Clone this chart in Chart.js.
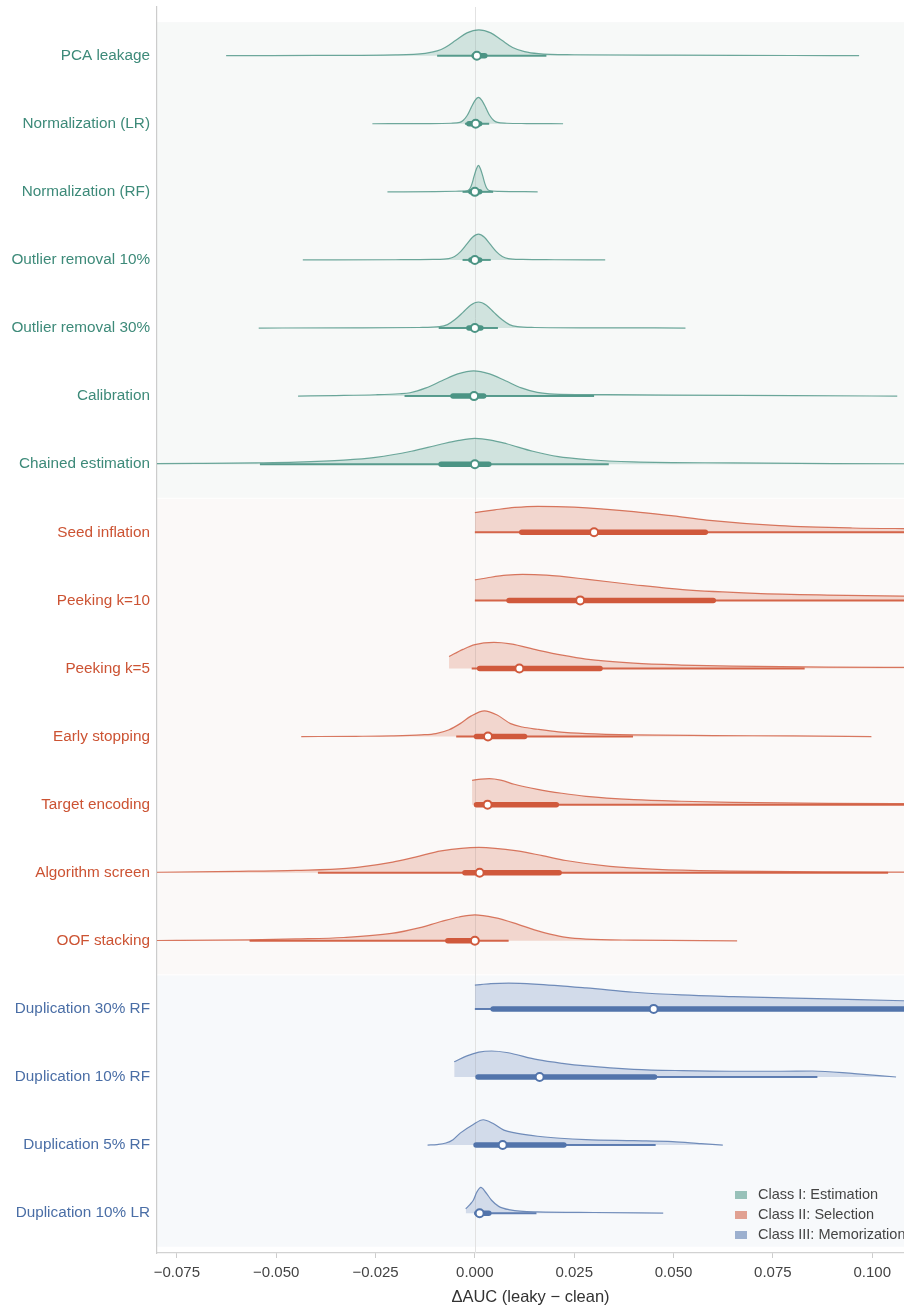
<!DOCTYPE html>
<html>
<head>
<meta charset="utf-8">
<title>ΔAUC by leakage mechanism</title>
<script src="https://cdn.jsdelivr.net/npm/chart.js@4.4.1/dist/chart.umd.min.js"></script>
<style>
  html, body { margin: 0; padding: 0; background: #ffffff; overflow: hidden; }
  #wrap { width: 904px; height: 1309px; position: relative; }
  canvas { display: block; }
</style>
</head>
<body>
<div id="wrap"><canvas id="chart" width="904" height="1309"></canvas></div>
<script>
// ---- data -----------------------------------------------------------------
const CATEGORIES = [
  'PCA leakage', 'Normalization (LR)', 'Normalization (RF)', 'Outlier removal 10%',
  'Outlier removal 30%', 'Calibration', 'Chained estimation',
  'Seed inflation', 'Peeking k=10', 'Peeking k=5', 'Early stopping',
  'Target encoding', 'Algorithm screen', 'OOF stacking',
  'Duplication 30% RF', 'Duplication 10% RF', 'Duplication 5% RF', 'Duplication 10% LR'
];
// 0 = Class I (estimation), 1 = Class II (selection), 2 = Class III (memorization)
const ROW_CLASS = [0, 0, 0, 0, 0, 0, 0, 1, 1, 1, 1, 1, 1, 1, 2, 2, 2, 2];
const CLASS_NAMES = ['Class I: Estimation', 'Class II: Selection', 'Class III: Memorization'];

const MEDIAN = [0.0005, 0.0002, 0.0, 0.0, 0.0, -0.0002, 0.0,
                0.030, 0.0265, 0.0112, 0.0033, 0.0032, 0.0012, 0.0,
                0.045, 0.0163, 0.007, 0.0012];
const IQR_LO = [-0.0002, -0.0015, -0.001, -0.001, -0.0015, -0.0055, -0.0085,
                0.0118, 0.0086, 0.0012, 0.0004, 0.0004, -0.0025, -0.0068,
                0.0046, 0.0008, 0.0003, 0.0005];
const IQR_HI = [0.0025, 0.0012, 0.0012, 0.0012, 0.0015, 0.0022, 0.0035,
                0.058, 0.060, 0.0315, 0.0125, 0.0205, 0.0212, 0.0003,
                0.13, 0.0452, 0.0224, 0.0035];
const CI_LO = [-0.0095, -0.0025, -0.0031, -0.0031, -0.0091, -0.0177, -0.0541,
               0.0, 0.0, -0.0008, -0.0047, 0.0, -0.0395, -0.0567,
               0.0, 0.0005, 0.0, 0.0003];
const CI_HI = [0.018, 0.0036, 0.0046, 0.004, 0.0058, 0.030, 0.0337,
               0.125, 0.125, 0.083, 0.0398, 0.125, 0.104, 0.0085,
               0.14, 0.0862, 0.0455, 0.0155];

// density profiles: [ΔAUC, height in row units]
const DENSITY = [
  [[-0.0626,0],[-0.04,0.004],[-0.02,0.012],[-0.0125,0.035],[-0.0095,0.07],[-0.0075,0.12],[-0.0047,0.23],[-0.002,0.335],[0.001,0.38],[0.004,0.335],[0.0067,0.23],[0.0095,0.12],[0.0125,0.06],[0.016,0.03],[0.025,0.014],[0.05,0.007],[0.08,0.003],[0.0967,0]],
  [[-0.0258,0],[-0.012,0.003],[-0.006,0.008],[-0.0038,0.02],[-0.0029,0.052],[-0.0019,0.125],[-0.001,0.23],[0.0,0.34],[0.0009,0.387],[0.0018,0.34],[0.0028,0.23],[0.0037,0.125],[0.0047,0.052],[0.0057,0.02],[0.008,0.008],[0.013,0.003],[0.0222,0]],
  [[-0.022,0],[-0.01,0.003],[-0.004,0.01],[-0.0018,0.02],[-0.0012,0.052],[-0.0007,0.125],[-0.0002,0.23],[0.0004,0.34],[0.0009,0.388],[0.0014,0.34],[0.002,0.23],[0.0025,0.125],[0.003,0.052],[0.0036,0.02],[0.006,0.008],[0.0158,0]],
  [[-0.0433,0],[-0.02,0.003],[-0.0105,0.008],[-0.0066,0.02],[-0.0051,0.05],[-0.0036,0.122],[-0.0021,0.227],[-0.0006,0.333],[0.0009,0.378],[0.0024,0.333],[0.0039,0.227],[0.0054,0.122],[0.0069,0.05],[0.0084,0.02],[0.012,0.008],[0.02,0.003],[0.0328,0]],
  [[-0.0544,0],[-0.03,0.003],[-0.014,0.008],[-0.0089,0.02],[-0.0069,0.05],[-0.005,0.124],[-0.003,0.23],[-0.0011,0.336],[0.0009,0.382],[0.0029,0.336],[0.0048,0.23],[0.0068,0.124],[0.0087,0.05],[0.0107,0.02],[0.015,0.008],[0.03,0.003],[0.053,0]],
  [[-0.0445,0],[-0.035,0.008],[-0.025,0.02],[-0.019,0.035],[-0.0163,0.05],[-0.0123,0.121],[-0.0083,0.226],[-0.0043,0.327],[-0.0003,0.372],[0.0037,0.327],[0.0077,0.226],[0.0117,0.121],[0.0157,0.055],[0.02,0.03],[0.03,0.022],[0.05,0.014],[0.08,0.008],[0.1063,0]],
  [[-0.09,0.005],[-0.07,0.012],[-0.055,0.02],[-0.045,0.03],[-0.033,0.059],[-0.025,0.1],[-0.016,0.19],[-0.0088,0.29],[-0.004,0.35],[0.0,0.378],[0.004,0.355],[0.008,0.3],[0.0146,0.19],[0.021,0.11],[0.028,0.069],[0.04,0.034],[0.065,0.019],[0.09,0.01],[0.115,0.006]],
  [[0,0.29],[0.005,0.33],[0.01,0.365],[0.0158,0.382],[0.025,0.37],[0.04,0.304],[0.05,0.24],[0.0584,0.18],[0.0766,0.098],[0.095,0.063],[0.109,0.054],[0.12,0.05]],
  [[0,0.3],[0.004,0.34],[0.008,0.37],[0.012,0.382],[0.018,0.37],[0.0279,0.313],[0.04,0.23],[0.0523,0.157],[0.0706,0.103],[0.0888,0.078],[0.109,0.063],[0.12,0.058]],
  [[-0.0065,0.176],[-0.003,0.28],[0.0,0.35],[0.0048,0.382],[0.009,0.36],[0.0158,0.27],[0.022,0.195],[0.028,0.137],[0.04,0.078],[0.052,0.05],[0.065,0.034],[0.089,0.02],[0.109,0.015],[0.12,0.012]],
  [[-0.0437,0],[-0.03,0.004],[-0.021,0.01],[-0.0135,0.025],[-0.0098,0.044],[-0.0065,0.1],[-0.0037,0.19],[-0.001,0.3],[0.0024,0.378],[0.0055,0.32],[0.009,0.19],[0.012,0.14],[0.0158,0.107],[0.021,0.07],[0.028,0.044],[0.04,0.025],[0.06,0.015],[0.08,0.009],[0.0998,0]],
  [[-0.0007,0.357],[0.0015,0.375],[0.0036,0.382],[0.0065,0.36],[0.0099,0.3],[0.0158,0.225],[0.0219,0.167],[0.028,0.122],[0.04,0.074],[0.052,0.05],[0.065,0.034],[0.089,0.02],[0.109,0.015],[0.12,0.013]],
  [[-0.09,0.004],[-0.08,0.007],[-0.06,0.02],[-0.045,0.035],[-0.0323,0.064],[-0.0207,0.157],[-0.015,0.23],[-0.0085,0.32],[0.001,0.372],[0.0107,0.32],[0.017,0.25],[0.0229,0.18],[0.034,0.093],[0.0459,0.049],[0.0645,0.025],[0.089,0.012],[0.11,0.008]],
  [[-0.09,0.003],[-0.075,0.006],[-0.0565,0.015],[-0.045,0.028],[-0.033,0.049],[-0.021,0.108],[-0.0141,0.19],[-0.0085,0.284],[-0.004,0.35],[0.0,0.382],[0.005,0.34],[0.0107,0.245],[0.015,0.16],[0.0189,0.098],[0.023,0.05],[0.028,0.025],[0.04,0.01],[0.066,0]],
  [[0,0.348],[0.004,0.37],[0.0085,0.378],[0.015,0.365],[0.028,0.309],[0.04,0.245],[0.052,0.205],[0.065,0.181],[0.089,0.147],[0.109,0.118],[0.12,0.105]],
  [[-0.0052,0.225],[-0.002,0.31],[0.001,0.365],[0.0042,0.382],[0.008,0.36],[0.0158,0.254],[0.022,0.2],[0.028,0.162],[0.04,0.113],[0.0523,0.093],[0.0645,0.084],[0.077,0.084],[0.085,0.088],[0.0955,0.049],[0.106,0]],
  [[-0.0119,0],[-0.0095,0.008],[-0.0073,0.03],[-0.0055,0.08],[-0.0037,0.176],[-0.0005,0.3],[0.0021,0.372],[0.0045,0.32],[0.0073,0.22],[0.0104,0.176],[0.0158,0.13],[0.0215,0.1],[0.028,0.08],[0.04,0.064],[0.0498,0.05],[0.057,0.02],[0.0624,0]],
  [[-0.0023,0.063],[-0.0012,0.13],[-0.0004,0.19],[0.0005,0.31],[0.0015,0.378],[0.0028,0.3],[0.0042,0.19],[0.006,0.1],[0.0089,0.049],[0.0158,0.019],[0.03,0.01],[0.0474,0]]
];

const X_TICKS = [-0.075, -0.05, -0.025, 0, 0.025, 0.05, 0.075, 0.1];
const X_MIN = -0.08, X_MAX = 0.108;
const ZERO_LINE = 0;

// ---- styling --------------------------------------------------------------
const CLASS_COLORS = ['#4b9484', '#d0593c', '#5274ab'];
const LABEL_COLORS = ['#3d8a79', '#cc5333', '#4a6ea6'];
const BAND_COLORS  = ['#f7f9f8', '#fbf9f8', '#f7f9fb'];
const FONT = "'Liberation Sans', Arial, Helvetica, sans-serif";

function rgba(hex, a) {
  const n = parseInt(hex.slice(1), 16);
  return `rgba(${(n >> 16) & 255},${(n >> 8) & 255},${n & 255},${a})`;
}

// ---- datasets -------------------------------------------------------------
const datasets = [];
CATEGORIES.forEach((name, i) => {
  const c = CLASS_COLORS[ROW_CLASS[i]];
  datasets.push({
    label: name + ' density',
    data: DENSITY[i].map(([x, h]) => ({ x, y: i - h })),
    borderColor: rgba(c, 0.8),
    backgroundColor: rgba(c, 0.22),
    borderWidth: 1.2,
    fill: { value: i },
    pointRadius: 0,
    cubicInterpolationMode: 'monotone',
    clip: 0,
    order: 3
  });
  datasets.push({
    label: name + ' interval',
    data: [{ x: CI_LO[i], y: i }, { x: CI_HI[i], y: i }],
    borderColor: rgba(c, 0.92),
    borderWidth: 2,
    pointRadius: 0,
    fill: false,
    clip: 0,
    order: 2
  });
  datasets.push({
    label: name + ' IQR',
    data: [{ x: IQR_LO[i], y: i }, { x: IQR_HI[i], y: i }],
    borderColor: c,
    borderWidth: 5.5,
    borderCapStyle: 'round',
    pointRadius: 0,
    fill: false,
    clip: 0,
    order: 1
  });
  datasets.push({
    label: name + ' median',
    data: [{ x: MEDIAN[i], y: i }],
    showLine: false,
    pointRadius: 4,
    pointBackgroundColor: '#ffffff',
    pointBorderColor: c,
    pointBorderWidth: 2,
    order: 0
  });
});

// class bands, zero reference line and legend
const decorations = {
  id: 'decorations',
  beforeDraw(chart) {
    const { ctx, chartArea: a, scales: { y } } = chart;
    ctx.save();
    [0, 1, 2].forEach(k => {
      const rows = ROW_CLASS.map((r, i) => r === k ? i : -1).filter(i => i >= 0);
      const top = y.getPixelForValue(rows[0] - 0.5);
      const bot = y.getPixelForValue(rows[rows.length - 1] + 0.5);
      ctx.fillStyle = BAND_COLORS[k];
      ctx.fillRect(a.left, top + 0.5, a.right - a.left, bot - top - 1);
    });
    ctx.restore();
  },
  beforeDatasetsDraw(chart) {
    const { ctx, chartArea: a, scales: { x } } = chart;
    const px = Math.round(x.getPixelForValue(ZERO_LINE)) + 0.5;
    ctx.save();
    ctx.strokeStyle = '#e2e2e2';
    ctx.lineWidth = 1;
    ctx.beginPath();
    ctx.moveTo(px, a.top);
    ctx.lineTo(px, a.bottom);
    ctx.stroke();
    ctx.restore();
  },
  afterDraw(chart) {
    const { ctx, chartArea: a } = chart;
    ctx.save();
    ctx.font = `14.5px ${FONT}`;
    ctx.textBaseline = 'middle';
    ctx.textAlign = 'left';
    CLASS_NAMES.forEach((name, k) => {
      const cy = a.bottom - 58 + k * 20;
      ctx.fillStyle = rgba(CLASS_COLORS[k], 0.55);
      ctx.fillRect(a.right - 169, cy - 4, 12, 8);
      ctx.fillStyle = '#444444';
      ctx.fillText(name, a.right - 146, cy);
    });
    ctx.restore();
  }
};

new Chart(document.getElementById('chart'), {
  type: 'line',
  data: { datasets },
  options: {
    responsive: false,
    animation: false,
    devicePixelRatio: 1,
    layout: { autoPadding: false, padding: { top: 7, right: 0, bottom: 0, left: 0 } },
    plugins: {
      legend: { display: false },
      tooltip: { enabled: false }
    },
    scales: {
      x: {
        type: 'linear',
        min: X_MIN,
        max: X_MAX,
        afterBuildTicks: s => { s.ticks = X_TICKS.map(v => ({ value: v })); },
        afterFit: s => { s.height = 56; s.paddingLeft = 0; s.paddingRight = 0; s.paddingTop = 0; s.paddingBottom = 0; },
        grid: { drawOnChartArea: false, drawTicks: true, tickLength: 5, color: '#cccccc' },
        border: { display: true, color: '#d2d2d2', width: 1.2 },
        ticks: {
          autoSkip: false,
          maxRotation: 0,
          padding: 6,
          color: '#444444',
          font: { family: FONT, size: 15 },
          callback: v => (v < 0 ? '\u2212' : '') + Math.abs(v).toFixed(3)
        },
        title: {
          display: true,
          text: 'ΔAUC (leaky \u2212 clean)',
          color: '#333333',
          font: { family: FONT, size: 16.5 },
          padding: { top: 0, bottom: 2 }
        }
      },
      y: {
        type: 'linear',
        reverse: true,
        min: -0.715,
        max: 17.585,
        afterBuildTicks: s => { s.ticks = CATEGORIES.map((_, i) => ({ value: i })); },
        afterFit: s => { s.width = 157; s.paddingTop = 0; s.paddingBottom = 0; s.paddingLeft = 0; s.paddingRight = 0; },
        grid: { display: false, drawTicks: false },
        border: { display: true, color: '#cccccc', width: 1.2 },
        ticks: {
          autoSkip: false,
          padding: 7,
          font: { family: FONT, size: 15.3 },
          color: ctx => LABEL_COLORS[ROW_CLASS[ctx.tick.value]] || '#444444',
          callback: v => CATEGORIES[v] ?? ''
        }
      }
    }
  },
  plugins: [decorations]
});
</script>
</body>
</html>
